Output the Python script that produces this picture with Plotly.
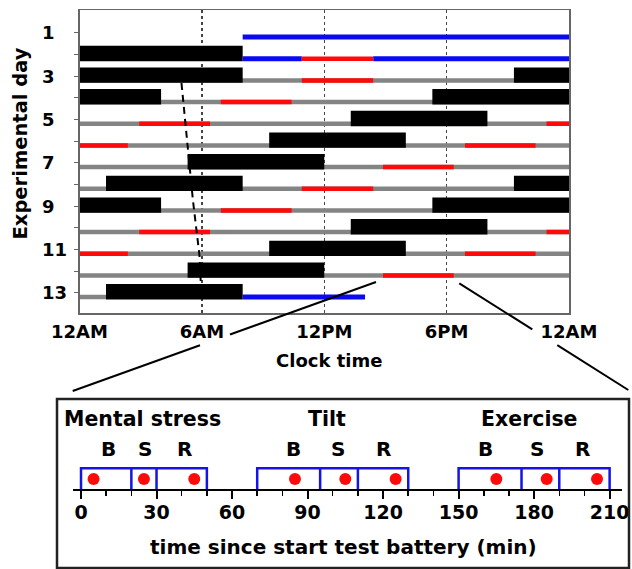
import plotly.graph_objects as go

W, H = 632, 569

# ---------------- data: top panel (clock hours, per experimental day) ----------------
sleep_day   = [2, 3, 3, 4, 4, 5, 6, 7, 8, 8, 9, 9, 10, 11, 12, 13]
sleep_start = [0, 0, 21.3, 0, 17.3, 13.3, 9.3, 5.3, 1.3, 21.3, 0, 17.3, 13.3, 9.3, 5.3, 1.3]
sleep_end   = [8.0, 8.0, 24, 4.0, 24, 20.0, 16.0, 12.0, 8.0, 24, 4.0, 24, 20.0, 16.0, 12.0, 8.0]

test_day   = [2, 3, 4, 5, 5, 6, 6, 7, 8, 9, 10, 10, 11, 11, 12]
test_start = [10.9, 10.9, 6.93, 2.93, 22.9, 0, 18.9, 14.88, 10.9, 6.93, 2.93, 22.9, 0, 18.9, 14.88]
test_end   = [14.4, 14.4, 10.4, 6.4, 24, 2.37, 22.36, 18.35, 14.4, 10.4, 6.4, 24, 2.37, 22.36, 18.35]

lab_day   = [1, 2, 2, 13]
lab_start = [8.0, 8.0, 14.4, 8.0]
lab_end   = [24, 10.9, 24, 14.0]

wake_day   = [3, 4, 5, 6, 7, 8, 9, 10, 11, 12, 13]
wake_start = [0, 0, 0, 0, 0, 0, 0, 0, 0, 0, 0]
wake_end   = [24, 24, 24, 24, 24, 24, 24, 24, 24, 24, 1.3]

dlmo_hour = [5.0, 5.56, 5.88, 5.97]
dlmo_day  = [3.32, 8.72, 11.26, 13.0]

day_ticks = list(range(1, 14))
day_labels = [1, 3, 5, 7, 9, 11, 13]
clock_vals = [0, 6, 12, 18, 24]
clock_text = ["12AM", "6AM", "12PM", "6PM", "12AM"]

# ---------------- data: inset (minutes since start of test battery) ----------------
phase_names   = ["Mental stress", "Tilt", "Exercise"]
phase_label_x = [24.3, 97.6, 178.3]
phase_bounds  = [[0, 20, 30, 50], [70, 95, 110, 130], [150, 175, 190, 210]]
sub_names     = ["B", "S", "R", "B", "S", "R", "B", "S", "R"]
sub_label_x   = [10.8, 25.4, 41.3, 84.4, 102.0, 120.0, 160.5, 181.3, 199.2]
sample_times  = [5, 25, 45, 85, 105, 125, 165, 185, 205]
minute_ticks  = [0, 30, 60, 90, 120, 150, 180, 210]

FONT = "DejaVu Sans"
LINE_OFF = 0.2
BAR_OFF = -0.045


def px_x(p):
    return p / W


def px_y(p):
    return 1 - p / H


def segs(days, starts, ends, off):
    xs, ys = [], []
    for d, s, e in zip(days, starts, ends):
        xs += [s, e, None]
        ys += [d + off, d + off, None]
    return xs, ys


fig = go.Figure()

gx, gy = segs(wake_day, wake_start, wake_end, LINE_OFF)
fig.add_trace(go.Scatter(x=gx, y=gy, mode="lines", line=dict(color="#848484", width=4.5),
                         xaxis="x", yaxis="y", hoverinfo="skip"))
bx, by = segs(lab_day, lab_start, lab_end, LINE_OFF)
fig.add_trace(go.Scatter(x=bx, y=by, mode="lines", line=dict(color="#0a0af0", width=5),
                         xaxis="x", yaxis="y", hoverinfo="skip"))
rx, ry = segs(test_day, test_start, test_end, LINE_OFF)
fig.add_trace(go.Scatter(x=rx, y=ry, mode="lines", line=dict(color="#ff0a0a", width=4.5),
                         xaxis="x", yaxis="y", hoverinfo="skip"))
sx, sy = segs(sleep_day, sleep_start, sleep_end, BAR_OFF)
fig.add_trace(go.Scatter(x=sx, y=sy, mode="lines", line=dict(color="black", width=15.4),
                         xaxis="x", yaxis="y", hoverinfo="skip"))
fig.add_trace(go.Scatter(x=dlmo_hour, y=dlmo_day, mode="lines",
                         line=dict(color="black", width=2, dash="7px,5px"),
                         xaxis="x", yaxis="y", hoverinfo="skip"))

# inset: blue boxes
BOX_TOP = 20.7
for b in phase_bounds:
    xs = [b[0], b[0], b[3], b[3], None, b[1], b[1], None, b[2], b[2]]
    ys = [0, BOX_TOP, BOX_TOP, 0, None, 0, BOX_TOP, None, 0, BOX_TOP]
    fig.add_trace(go.Scatter(x=xs, y=ys, mode="lines", line=dict(color="#1414e6", width=2.5),
                             xaxis="x2", yaxis="y2", hoverinfo="skip"))
fig.add_trace(go.Scatter(x=sample_times, y=[10] * len(sample_times), mode="markers",
                         marker=dict(color="#ff0a0a", size=12), xaxis="x2", yaxis="y2",
                         hoverinfo="skip"))

bold18 = dict(family=FONT, size=18, color="black", weight="bold")
bold20 = dict(family=FONT, size=20, color="black", weight="bold")

annotations = []
for d in day_labels:
    annotations.append(dict(x=px_x(40), y=d, xref="paper", yref="y", text=str(d),
                            showarrow=False, xanchor="left", yanchor="middle", font=bold18))
annotations.append(dict(x=px_x(20.5), y=px_y(144), xref="paper", yref="paper",
                        text="Experimental day", textangle=-90, showarrow=False,
                        xanchor="center", yanchor="middle",
                        font=dict(family=FONT, size=19.5, color="black", weight="bold")))
annotations.append(dict(x=px_x(329), y=px_y(360.5), xref="paper", yref="paper",
                        text="Clock time", showarrow=False, xanchor="center",
                        yanchor="middle", font=bold18))
for name, xp in zip(phase_names, phase_label_x):
    annotations.append(dict(x=xp, y=70, xref="x2", yref="y2", text=name, showarrow=False,
                            xanchor="center", yanchor="middle",
                            font=dict(family=FONT, size=20.5, color="black", weight="bold")))
for name, xp in zip(sub_names, sub_label_x):
    annotations.append(dict(x=xp, y=39.7, xref="x2", yref="y2", text=name, showarrow=False,
                            xanchor="center", yanchor="middle", font=bold20))
annotations.append(dict(x=px_x(343.7), y=px_y(546.7), xref="paper", yref="paper",
                        text="time since start test battery (min)", showarrow=False,
                        xanchor="center", yanchor="middle", font=bold20))


def pline(x0, y0, x1, y1, color="black", width=2):
    return dict(type="line", xref="paper", yref="paper", x0=px_x(x0), y0=px_y(y0),
                x1=px_x(x1), y1=px_y(y1), line=dict(color=color, width=width))


shapes = [
    pline(376, 282, 230, 334.5),
    pline(200, 345.3, 72.7, 391),
    pline(459.3, 283.3, 532.3, 329.4),
    pline(557.3, 345.1, 628.3, 390),
    dict(type="rect", xref="paper", yref="paper", x0=px_x(57), x1=px_x(629),
         y0=px_y(568), y1=px_y(399), line=dict(color="#222222", width=2.5)),
]

fig.update_layout(
    width=W, height=H, margin=dict(l=0, r=0, t=0, b=0, autoexpand=False),
    paper_bgcolor="white", plot_bgcolor="white", showlegend=False,
    font=dict(family=FONT),
    xaxis=dict(domain=[px_x(79.5), px_x(569)], range=[0, 24], anchor="y",
               tickvals=clock_vals, ticktext=clock_text, ticks="",
               tickfont=bold18, ticklabelstandoff=2, automargin=False,
               showgrid=True, griddash="dot", gridcolor="#444444", gridwidth=1.5,
               showline=True, mirror=True, linecolor="#666666", linewidth=1.5,
               zeroline=False),
    yaxis=dict(domain=[px_y(313.3), px_y(10)], range=[13.95, -0.05], anchor="x",
               tickvals=day_ticks, ticks="outside", ticklen=4, tickcolor="#666666",
               showticklabels=False, showgrid=False, zeroline=False, automargin=False,
               showline=True, mirror=True, linecolor="#666666", linewidth=1.5),
    xaxis2=dict(domain=[px_x(72.7), px_x(621.7)], range=[-3.3, 214.8], anchor="y2",
                tickvals=minute_ticks, ticks="outside", ticklen=8, tickwidth=2,
                tickcolor="black",
                tickfont=dict(family=FONT, size=19, color="black", weight="bold"),
                ticklabelstandoff=-3, automargin=False,
                minor=dict(dtick=10, tick0=0, ticks="outside", ticklen=5, tickwidth=1.5,
                           tickcolor="black", showgrid=False),
                showline=True, linecolor="black", linewidth=2, showgrid=False,
                zeroline=False),
    yaxis2=dict(domain=[px_y(489), px_y(399)], range=[0, 90], anchor="x2", visible=False,
                automargin=False),
    annotations=annotations, shapes=shapes,
)

fig.write_html("out.html", config={"displayModeBar": False, "staticPlot": True})

# remove the browser's default page margin so the figure sits at the window's origin
with open("out.html", "r", encoding="utf-8") as f:
    html = f.read()
html = html.replace("<head>", "<head><style>html,body{margin:0;padding:0;overflow:hidden;}</style>", 1)
with open("out.html", "w", encoding="utf-8") as f:
    f.write(html)
